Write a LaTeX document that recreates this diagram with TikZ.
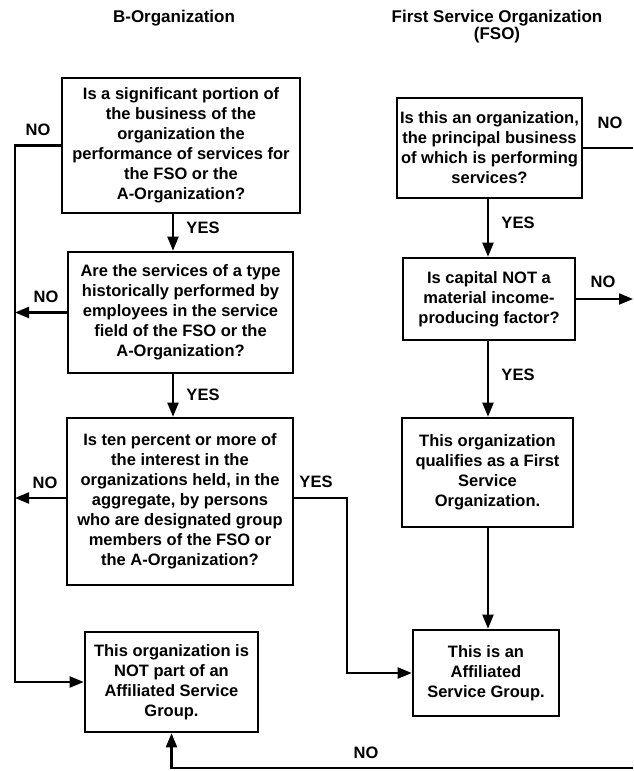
\documentclass[tikz,border=0pt]{standalone}
\usepackage{fontspec}
\setmainfont{Liberation Sans}
\usetikzlibrary{arrows.meta}
\begin{document}
\begin{tikzpicture}[x=1pt,y=-1pt,
  box/.style={draw, line width=2.6pt, align=center, inner sep=0pt,
    font=\bfseries\fontsize{16.5}{20}\selectfont},
  conn/.style={line width=2.1pt},
  arr/.style={conn, -{Triangle[length=14pt,width=11pt]}},
  lbl/.style={font=\bfseries\fontsize{16.5}{20}\selectfont, inner sep=0pt},
  hdr/.style={font=\bfseries\fontsize{17}{17}\selectfont, align=center, inner sep=0pt}]
\useasboundingbox (0,0) rectangle (633,771);

% headers
\node[hdr] (hb) at (174,18) {B-Organization};
\node[hdr] (hf) at (497,26.5) {First Service Organization\\(FSO)};

% B column
\node[box, minimum width=238pt, minimum height=135pt] (b1) at (181,145.5)
  {Is a significant portion of\\the business of the\\organization the\\performance of services for\\the FSO or the\\A-Organization?};
\node[box, minimum width=225pt, minimum height=121pt] (b2) at (180.5,312.5)
  {Are the services of a type\\historically performed by\\employees in the service\\field of the FSO or the\\A-Organization?};
\node[box, minimum width=226pt, minimum height=167pt] (b3) at (180,501.5)
  {Is ten percent or more of\\the interest in the\\organizations held, in the\\aggregate, by persons\\who are designated group\\members of the FSO or\\the A-Organization?};
\node[box, minimum width=173pt, minimum height=100pt] (b4) at (171.5,682)
  {This organization is\\NOT part of an\\Affiliated Service\\Group.};

% F column
\node[box, minimum width=185pt, minimum height=100pt] (f1) at (489.5,148)
  {Is this an organization,\\the principal business\\of which is performing\\services?};
\node[box, minimum width=172pt, minimum height=82pt] (f2) at (489,299)
  {Is capital NOT a\\material income-\\producing factor?};
\node[box, minimum width=171pt, minimum height=109pt] (f3) at (487.5,472.5)
  {This organization\\qualifies as a First\\Service\\Organization.};
\node[box, minimum width=146pt, minimum height=86pt] (f4) at (486,673)
  {This is an\\Affiliated\\Service Group.};

% helper coordinates
\coordinate (colB) at (173,0);
\coordinate (colF) at (488,0);
\coordinate (rail) at (15,0);
\coordinate (yesrail) at (347,0);
\coordinate (edgeX) at (633,0);
\coordinate (b3y) at (0,498);
\coordinate (edgeC) at (633,768);

% B connectors
\draw[arr] (b1.south -| colB) -- (b2.north -| colB);
\draw[arr] (b2.south -| colB) -- (b3.north -| colB);
\draw[arr] (b1.west) -- (b1.west -| rail) -- (b4.west -| rail) -- (b4.west);
\draw[arr] (b2.west) -- (b2.west -| rail);
\draw[arr] (b3.west |- b3y) -- (rail |- b3y);
\draw[arr] (b3.east |- b3y) -- (yesrail |- b3y) -- (yesrail |- f4.west) -- (f4.west);

% F connectors
\draw[arr] (f1.south -| colF) -- (f2.north -| colF);
\draw[arr] (f2.south -| colF) -- (f3.north -| colF);
\draw[arr] (f3.south -| colF) -- (f4.north -| colF);
\draw[conn] (f1.east) -- (f1.east -| edgeX);
\draw[arr] (f2.east) -- (f2.east -| edgeX);
\draw[arr] (edgeC) -- (edgeC -| b4.south) -- (b4.south);

% labels
\node[lbl] (n1) at (38,130) {NO};
\node[lbl] (n2) at (46,297) {NO};
\node[lbl] (n3) at (45,483) {NO};
\node[lbl] (y1) at (203,228) {YES};
\node[lbl] (y2) at (203,395) {YES};
\node[lbl] (y3) at (316,482) {YES};
\node[lbl] (n4) at (610,123) {NO};
\node[lbl] (n5) at (603,282) {NO};
\node[lbl] (y4) at (518,223) {YES};
\node[lbl] (y5) at (518,375) {YES};
\node[lbl] (n6) at (366,753) {NO};
\end{tikzpicture}
\end{document}
